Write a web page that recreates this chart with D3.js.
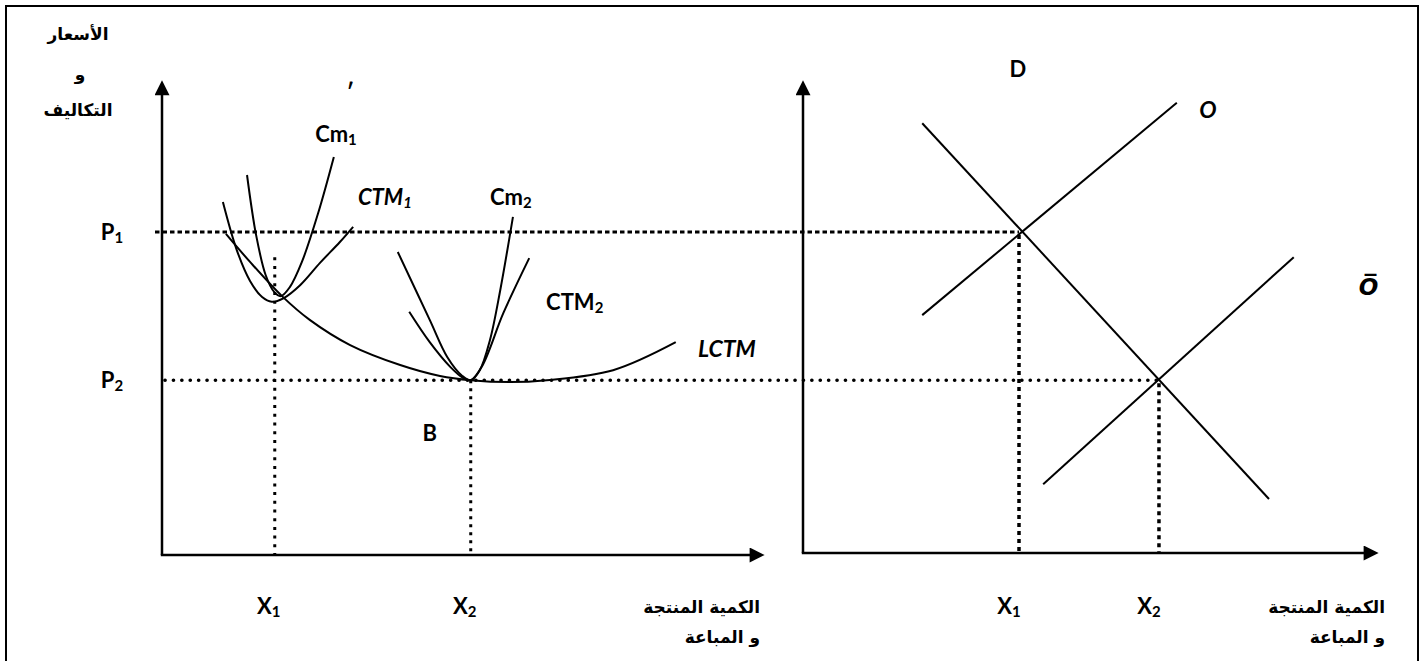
<!DOCTYPE html>
<html>
<head>
<meta charset="utf-8">
<script src="https://cdn.jsdelivr.net/npm/d3@7"></script>
<style>
body { margin: 0; background: #fff; }
text { fill: #000; }
</style>
</head>
<body>
<div id="wrapper"></div>
<script>
// values are in abstract units: quantity 0-100 on each x axis, price/cost 0-100 on the y axis
const priceLevels = [68, 36.8];            // P1, P2
const priceNames = ["P", "P"];
const priceSubs = ["1", "2"];
const qtyLeft = [18.7, 51.2];              // X1, X2 (cost panel)
const qtyRight = [37.5, 61.8];             // X1, X2 (market panel)
const qtyNames = ["X", "X"];
const qtySubs = ["1", "2"];
const x1GuideTop = 62.7;                   // where the X1 dotted line starts in the cost panel

// short-run marginal cost curves
const cm1 = [[14.1,80.0],[15.6,67.4],[17.2,58.9],[18.6,55.4],[19.7,54.5],[21.2,56.4],[23.2,61.7],[25.9,72.0],[28.5,83.8]];
const cm2 = [[39.1,63.8],[44.4,49.5],[47.3,41.7],[49.8,37.7],[51.2,36.8],[52.7,38.9],[54.4,45.3],[56.1,55.8],[58.2,71.2]];
// short-run average total cost curves
const ctm1 = [[10.1,74.3],[12.4,64.2],[14.6,57.7],[16.6,54.3],[18.2,53.3],[20.2,54.1],[22.9,56.8],[26.2,61.5],[29.5,65.9],[31.7,69.1]];
const ctm2 = [[41.0,51.2],[44.4,44.8],[47.8,39.6],[49.9,37.3],[51.2,36.8],[53.1,39.8],[56.6,50.9],[60.9,62.5]];
// long-run average cost
const lctm = [[10.6,67.6],[14.6,61.7],[19.9,54.5],[24.5,49.5],[31.2,44.2],[39.5,40.0],[46.1,37.7],[51.2,36.8],[57.7,36.4],[63.8,36.8],[74.8,38.9],[85.2,44.8]];

// market panel: demand and the two supply lines
const demand = [[20.7,90.9],[80.9,11.8]];
const supply1 = [[20.7,50.5],[64.9,95.2]];
const supply2 = [[41.7,14.9],[85.2,62.7]];

const width = 1426, height = 661;
const svg = d3.select("#wrapper").append("svg")
  .attr("width", width).attr("height", height)
  .style("display", "block");

svg.append("rect").attr("x", 0).attr("y", 0).attr("width", width).attr("height", height).attr("fill", "#fff");
// frame
svg.append("rect")
  .attr("x", 6).attr("y", 6).attr("width", 1412).attr("height", 700)
  .attr("fill", "none").attr("stroke", "#000").attr("stroke-width", 2);

const xL = d3.scaleLinear().domain([0, 100]).range([162, 765]);
const xR = d3.scaleLinear().domain([0, 100]).range([803, 1379]);
const y = d3.scaleLinear().domain([0, 100]).range([555, 80]);

const defs = svg.append("defs");
defs.append("marker")
  .attr("id", "arrow")
  .attr("viewBox", "0 0 10 10")
  .attr("refX", 6.5).attr("refY", 5)
  .attr("markerUnits", "userSpaceOnUse")
  .attr("markerWidth", 16).attr("markerHeight", 15)
  .attr("orient", "auto")
  .append("path").attr("d", "M0,0L10,5L0,10Z").attr("fill", "#000");

const lbl = "Lato, 'Open Sans', sans-serif";
const arab = "'DejaVu Sans', sans-serif";

// axes
function drawAxes(xs, yBase) {
  svg.append("line")
    .attr("x1", xs(0)).attr("y1", yBase)
    .attr("x2", xs(0)).attr("y2", y(100) + 5.6)
    .attr("stroke", "#000").attr("stroke-width", 2.5)
    .attr("marker-end", "url(#arrow)");
  svg.append("line")
    .attr("x1", xs(0) - 1.2).attr("y1", yBase)
    .attr("x2", xs(100) - 5.6).attr("y2", yBase)
    .attr("stroke", "#000").attr("stroke-width", 2.5)
    .attr("marker-end", "url(#arrow)");
}
drawAxes(xL, y(0));
drawAxes(xR, y(0) - 2);

// dotted guides
const guides = svg.append("g").attr("fill", "none").attr("stroke", "#000");
guides.append("line")
  .attr("x1", xL(0) - 7).attr("x2", xR(qtyRight[0]))
  .attr("y1", y(priceLevels[0])).attr("y2", y(priceLevels[0]))
  .attr("stroke-width", 3).attr("stroke-dasharray", "4.5 3");
guides.append("line")
  .attr("x1", xL(0) + 3).attr("x2", xR(qtyRight[1]))
  .attr("y1", y(priceLevels[1])).attr("y2", y(priceLevels[1]))
  .attr("stroke-width", 3.6).attr("stroke-linecap", "round").attr("stroke-dasharray", "0.1 8.3");
guides.append("line")
  .attr("x1", xL(qtyLeft[0])).attr("x2", xL(qtyLeft[0]))
  .attr("y1", y(x1GuideTop)).attr("y2", y(0))
  .attr("stroke-width", 3).attr("stroke-dasharray", "3 5.7");
guides.append("line")
  .attr("x1", xL(qtyLeft[1])).attr("x2", xL(qtyLeft[1]))
  .attr("y1", y(priceLevels[1])).attr("y2", y(0))
  .attr("stroke-width", 3).attr("stroke-dasharray", "3 5");
qtyRight.forEach((q, i) => {
  guides.append("line")
    .attr("x1", xR(q)).attr("x2", xR(q))
    .attr("y1", y(priceLevels[i]) + 3).attr("y2", y(0) - 2)
    .attr("stroke-width", 3.5).attr("stroke-dasharray", "4 4");
});

// curves
const lineL = d3.line().x(d => xL(d[0])).y(d => y(d[1])).curve(d3.curveCatmullRom.alpha(0.5));
const lineR = d3.line().x(d => xR(d[0])).y(d => y(d[1]));
const curves = svg.append("g").attr("fill", "none").attr("stroke", "#000").attr("stroke-width", 2);
[cm1, cm2, ctm1, ctm2, lctm].forEach(c => curves.append("path").attr("d", lineL(c)));
[demand, supply1, supply2].forEach(c => curves.append("path").attr("d", lineR(c)));

// text helpers
function label(x, yy, main, sub, opt = {}) {
  const t = svg.append("text")
    .attr("x", x).attr("y", yy)
    .attr("font-family", opt.family || lbl)
    .attr("font-weight", "bold")
    .attr("font-style", opt.italic ? "italic" : "normal")
    .attr("font-size", opt.size || 22)
    .attr("text-anchor", opt.anchor || "start");
  t.append("tspan").text(main);
  if (sub) t.append("tspan").attr("font-size", "0.68em").attr("dy", "0.18em").text(sub);
  return t;
}

// y axis title
label(xL(0) - 84, 40, "الأسعار", null, { family: arab, size: 17, anchor: "middle" });
label(xL(0) - 82, 80, "و", null, { family: arab, size: 17, anchor: "middle" });
label(xL(0) - 84, 116, "التكاليف", null, { family: arab, size: 17, anchor: "middle" });

// price labels
priceLevels.forEach((p, i) => label(xL(0) - 50, y(p) + 8, priceNames[i], priceSubs[i], { anchor: "middle" }));

// quantity labels
qtyLeft.forEach((q, i) => label(xL(q) - 6, 614, qtyNames[i], qtySubs[i], { anchor: "middle" }));
qtyRight.forEach((q, i) => label(xR(q) - 10, 614, qtyNames[i], qtySubs[i], { anchor: "middle" }));

// x axis titles
[[xL(100) - 5], [xR(100) + 6]].forEach(([xe]) => {
  label(xe, 613, "الكمية المنتجة", null, { family: arab, size: 17, anchor: "end" });
  label(xe, 643, "و المباعة", null, { family: arab, size: 17, anchor: "end" });
});

// curve annotations (placed in data units)
label(xL(31.2), y(95.8), "′", null, { size: 22, anchor: "middle" });
label(xL(25.4), y(86.9), "Cm", "1");
label(xL(32.5), y(73.7), "CTM", "1", { italic: true });
label(xL(54.4), y(73.7), "Cm", "2");
label(xL(63.7), y(51.6), "CTM", "2");
label(xL(88.9), y(41.7), "LCTM", null, { italic: true, size: 23 });
label(xL(44.4), y(24.0), "B", null, { anchor: "middle" });

label(xR(37.3), y(100.6), "D", null, { anchor: "middle" });
label(xR(70.3), y(92.0), "O", null, { italic: true, anchor: "middle", size: 23 });
label(xR(98.2), y(54.7), "O\u0305", null, { italic: true, anchor: "middle", size: 23, family: "'DejaVu Sans', sans-serif" });
</script>
</body>
</html>
